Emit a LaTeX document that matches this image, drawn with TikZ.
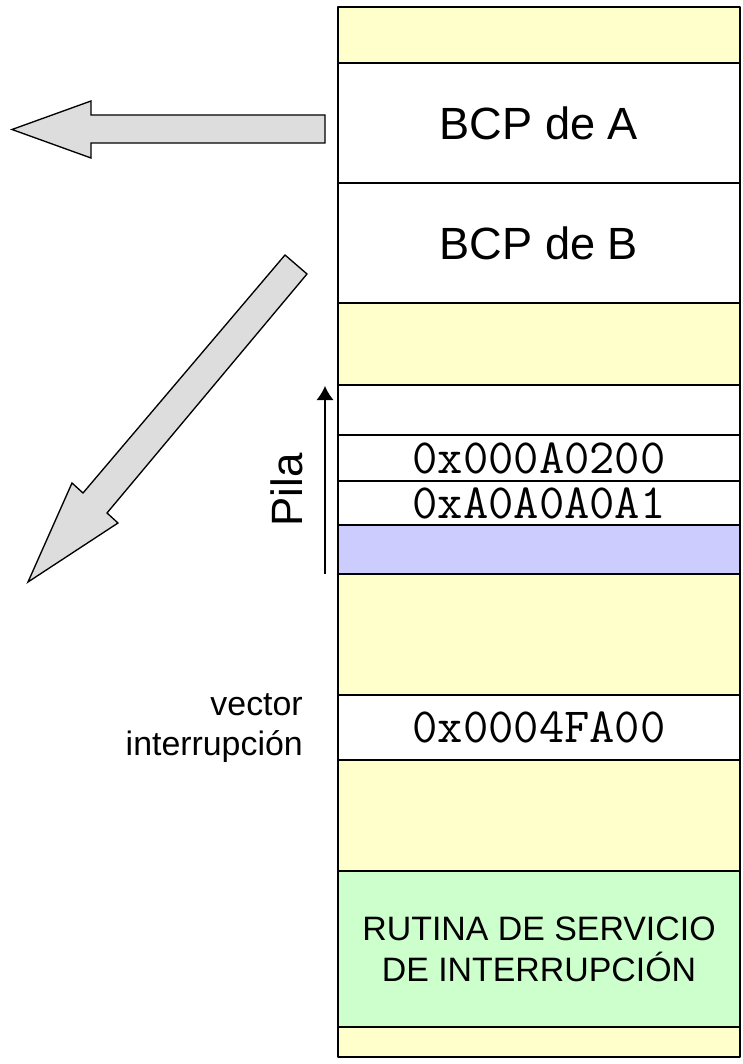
\documentclass[tikz,border=0pt]{standalone}
\usepackage{fontspec}
\setmainfont{Liberation Sans}
\usepackage{tikz}
\usetikzlibrary{arrows.meta}

\definecolor{memyellow}{HTML}{FFFFCC}
\definecolor{memblue}{HTML}{CCCCFF}
\definecolor{memgreen}{HTML}{CCFFCC}
\definecolor{arrowgray}{HTML}{DDDDDD}

\tikzset{
  cell/.style={draw,line width=1.4bp,inner sep=0pt,minimum width=301.5bp,fill=white},
  bcptext/.style={font=\fontsize{34}{40}\selectfont},
  hextext/.style={font=\ttfamily\fontsize{37}{40}\selectfont},
  smalltext/.style={font=\fontsize{25.5}{30.75}\selectfont,align=center},
  bigarrow/.style={draw,line width=1bp,fill=arrowgray,line join=miter},
}

\begin{document}
\begin{tikzpicture}[x=0.75bp,y=-0.75bp,>=latex,line join=bevel,]
\useasboundingbox (0,0) rectangle (742,1064);
%%
\node (cell_0) at (539,35) [cell,fill=memyellow,minimum height=42bp] {};
  \node (cell_1) at (539,123) [cell,minimum height=90bp,bcptext] {BCP de A};
  \node (cell_2) at (539,243) [cell,minimum height=90bp,bcptext] {BCP de B};
  \node (cell_3) at (539,344) [cell,fill=memyellow,minimum height=61.5bp] {};
  \node (cell_4) at (539,410) [cell,minimum height=37.5bp] {};
  \node (cell_5) at (539,458) [cell,minimum height=34.5bp,hextext] {0x000A0200};
  \node (cell_6) at (539,503) [cell,minimum height=33bp,hextext] {0xA0A0A0A1};
  \node (cell_7) at (539,549.5) [cell,fill=memblue,minimum height=36.75bp] {};
  \node (cell_8) at (539,634.5) [cell,fill=memyellow,minimum height=90.75bp] {};
  \node (cell_9) at (539,727.5) [cell,minimum height=48.75bp,hextext] {0x0004FA00};
  \node (cell_10) at (539,815.5) [cell,fill=memyellow,minimum height=83.25bp] {};
  \node (cell_11) at (539,949) [cell,fill=memgreen,minimum height=117bp,smalltext] {RUTINA DE SERVICIO\\DE INTERRUPCIÓN};
  \node (cell_12) at (539,1042) [cell,fill=memyellow,minimum height=22.5bp] {};
  \node (lbl_pila) at (287,490) [rotate=90,inner sep=0pt,font=\fontsize{33}{40}\selectfont] {Pila};
  \node (lbl_vector) at (303,728) [anchor=east,inner sep=0pt,smalltext,align=right] {vector\\interrupción};
  \coordinate (stack_bot) at (325,574);
  \coordinate (stack_top) at (325,386);
  \draw [black,line width=0.9bp,-{Latex[length=10.5bp,width=12.75bp]}] (stack_bot) -- (stack_top);
  \draw [bigarrow] (325,115) -- (91,115) -- (91,101) -- (12,129.5) -- (91,158) -- (91,143) -- (325,143) -- cycle;
  \draw [bigarrow] (285,255) -- (83,493) -- (72,483) -- (28,582) -- (118,523) -- (107,513) -- (307,274) -- cycle;
%
\end{tikzpicture}
\end{document}
